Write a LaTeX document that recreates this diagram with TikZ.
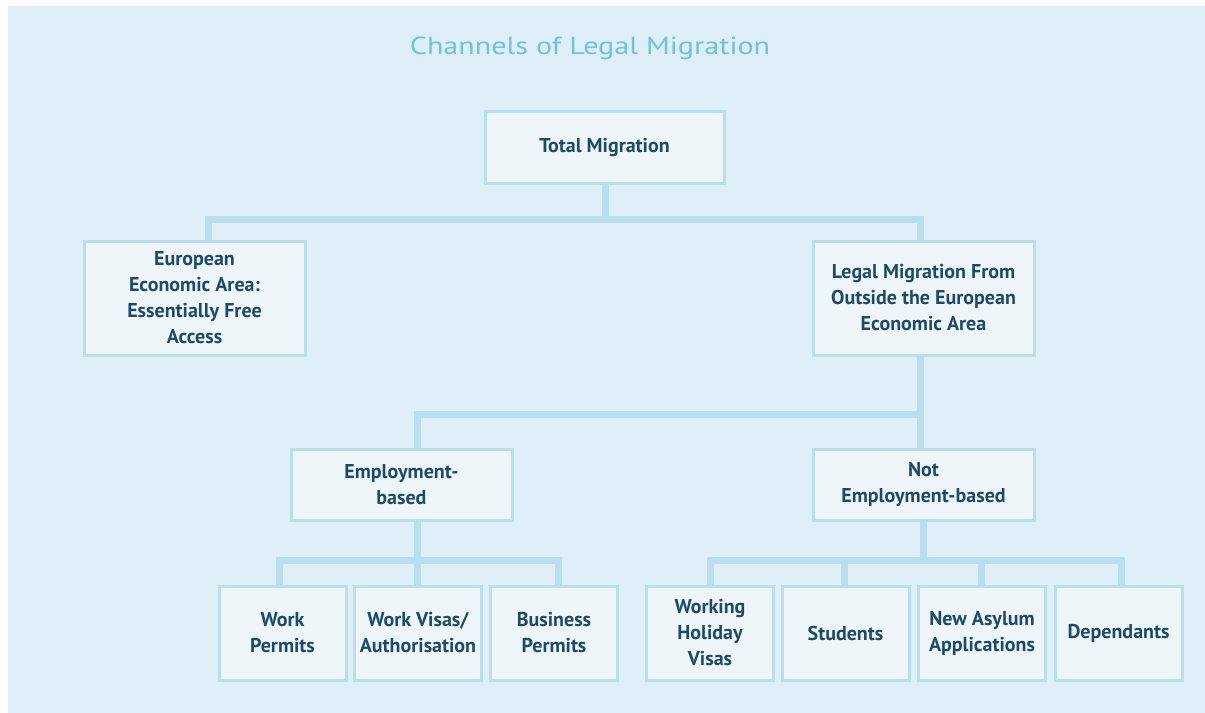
\documentclass[tikz,border=0pt]{standalone}
\usepackage{fontspec}
\setmainfont{PT Sans}
\newfontfamily\headingfont[FakeStretch=1.22]{PT Sans}
\usetikzlibrary{calc}
\definecolor{panel}{HTML}{DFEFF7}
\definecolor{boxfill}{HTML}{EEF6FA}
\definecolor{rule}{HTML}{B9DEF0}
\definecolor{ink}{HTML}{1E4A6A}
\definecolor{titleblue}{HTML}{6EC1E4}
\begin{document}
\begin{tikzpicture}[x=0.75pt,y=-0.75pt,
  box/.style={draw=rule,line width=2.25pt,fill=boxfill,text=ink,
    font=\fontsize{15}{19.5}\selectfont\bfseries,align=center,
    inner sep=0pt,outer sep=0pt},
  wide/.style={box,minimum width=221*0.75pt,minimum height=71*0.75pt},
  tall/.style={box,minimum width=221*0.75pt,minimum height=114*0.75pt},
  leaf/.style={box,minimum width=127*0.75pt,minimum height=94*0.75pt},
  conn/.style={draw=rule,line width=5.25pt,line join=miter}]
\useasboundingbox (0,0) rectangle (1205,713);
\fill[panel] (8,6) rectangle (1205,713);

\node[anchor=base,text=titleblue,font=\headingfont\fontsize{18.5}{22}\selectfont] (title) at (590,55) {Channels of Legal Migration};

% top level
\node[wide,minimum width=239*0.75pt] (tot) at (604.5,147.5) {Total Migration};
\node[tall] (eea) at (194.5,298) {European\\Economic Area:\\Essentially Free\\Access};
\node[tall] (legal) at (923.5,298) {Legal Migration From\\Outside the European\\Economic Area};

% second level
\node[wide] (emp) at (401.5,484.5) {Employment-\\based};
\node[wide] (notemp) at (923.5,484.5) {Not\\Employment-based};

% leaves
\node[leaf] (wp) at (282.5,633) {Work\\Permits};
\node[leaf] (wv) at (418,633) {Work Visas/\\Authorisation};
\node[leaf] (bp) at (554,633) {Business\\Permits};
\node[leaf] (whv) at (710,633) {Working\\Holiday\\Visas};
\node[leaf] (stu) at (845.5,633) {Students};
\node[leaf] (asy) at (982,633) {New Asylum\\Applications};
\node[leaf] (dep) at (1118.5,633) {Dependants};

% bus lines
\coordinate (busA) at (0,219);
\coordinate (busB) at (0,414);
\coordinate (busC) at (0,560);

\draw[conn] ($(tot.south)+(1,0)$) -- ($(tot.south |- busA)+(1,0)$);
\draw[conn] ($(eea.north)+(14,0)$) -- ($(eea.north |- busA)+(14,0)$)
  -- ($(legal.north |- busA)+(-3,0)$) -- ($(legal.north)+(-3,0)$);

\draw[conn] ($(legal.south)+(-3,0)$) -- ($(notemp.north)+(-3,0)$);
\draw[conn] ($(emp.north)+(15.5,0)$) -- ($(emp.north |- busB)+(15.5,0)$)
  -- ($(legal.south |- busB)+(-3,0)$);

\draw[conn] ($(emp.south)+(15.5,0)$) -- ($(emp.south |- busC)+(15.5,0)$);
\draw[conn] ($(wp.north)+(-3.5,0)$) -- ($(wp.north |- busC)+(-3.5,0)$)
  -- ($(bp.north |- busC)+(4.5,0)$) -- ($(bp.north)+(4.5,0)$);
\draw[conn] ($(wv.north)+(-1,0)$) -- ($(wv.north |- busC)+(-1,0)$);

\draw[conn] ($(notemp.south)+(-0.5,0)$) -- ($(notemp.south |- busC)+(-0.5,0)$);
\draw[conn] (whv.north) -- (whv.north |- busC)
  -- ($(dep.north |- busC)+(2.5,0)$) -- ($(dep.north)+(2.5,0)$);
\draw[conn] ($(stu.north)+(-1,0)$) -- ($(stu.north |- busC)+(-1,0)$);
\draw[conn] ($(asy.north)+(-1,0)$) -- ($(asy.north |- busC)+(-1,0)$);
\end{tikzpicture}
\end{document}
